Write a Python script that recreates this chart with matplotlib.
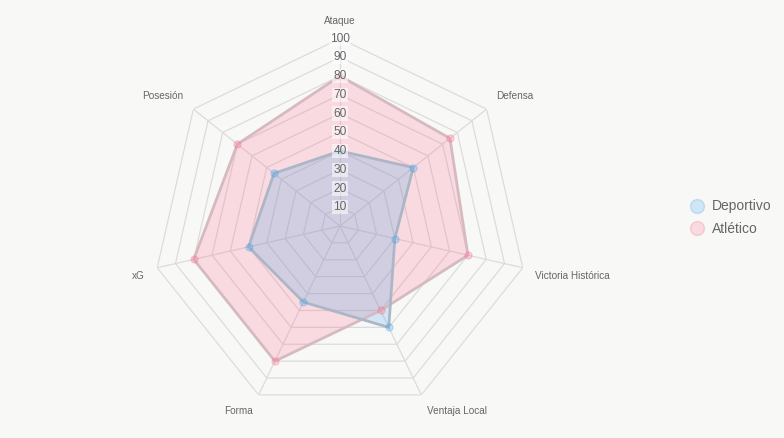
import numpy as np
import matplotlib
matplotlib.use("Agg")
from matplotlib import pyplot as plt
from matplotlib.lines import Line2D

plt.rcParams['font.family'] = ['Liberation Sans', 'DejaVu Sans']

## data
categories = ['Ataque', 'Defensa', 'Victoria Histórica', 'Ventaja Local', 'Forma', 'xG', 'Posesión']
deportivo = [40, 50, 30, 60, 45, 50, 45]
atletico = [80, 75, 70, 50, 80, 80, 70]
ticks = [10, 20, 30, 40, 50, 60, 70, 80, 90, 100]

bg = '#f8f8f7'
grid_c = '#dcdcdc'
text_c = '#666666'

fig = plt.figure(figsize=(7.84, 4.38), dpi=100, facecolor=bg)
# center at (340,226) px, 100 -> 187.5 px
ax = fig.add_axes([0.1945, 0.0559, 0.4783, 0.8562], projection='polar')
ax.set_facecolor('none')
ax.set_theta_zero_location('N')
ax.set_theta_direction(-1)
ax.set_ylim(0, 100)
ax.grid(False)
ax.spines['polar'].set_visible(False)
ax.set_xticks([])
ax.set_yticks([])

n = len(categories)
ang = np.linspace(0, 2 * np.pi, n, endpoint=False)
ang_c = np.append(ang, ang[0])

# heptagon grid
for t in ticks:
    ax.plot(ang_c, [t] * (n + 1), color=grid_c, lw=0.9, zorder=1)
for a in ang:
    ax.plot([a, a], [0, 100], color=grid_c, lw=0.9, zorder=1)

# series (Atlético below, Deportivo on top)
series = [
    ('Atlético', atletico, (1.0, 0.388, 0.518), '#d6bac2'),
    ('Deportivo', deportivo, (0.212, 0.635, 0.922), '#adb6c6'),
]
for name, vals, col, edge in series:
    v = np.append(vals, vals[0])
    ax.fill(ang_c, v, color=col, alpha=0.2, lw=0, zorder=2)
    ax.plot(ang_c, v, color=edge, lw=2, zorder=3, solid_joinstyle='miter')
    ax.plot(ang, vals, 'o', ms=5, mfc=(*col, 0.25), mec=(*col, 0.3), mew=1, zorder=4)

# radial tick labels
for t in ticks:
    ax.text(0, t, str(t), ha='center', va='center', fontsize=8.6, color=text_c, zorder=5,
            bbox=dict(boxstyle='square,pad=0.1', fc=(1, 1, 1, 0.55), ec='none'))

# point labels
for a, lab in zip(ang, categories):
    s, c = np.sin(a), np.cos(a)
    ha = 'center' if abs(s) < 0.05 else ('left' if s > 0 else 'right')
    va = 'bottom' if c > 0 else 'top'
    ax.text(a, 106.7, lab, ha=ha, va=va, fontsize=7.2, color=text_c, clip_on=False)

# legend
handles = [
    Line2D([], [], ls='none', marker='o', ms=10, mfc=(0.212, 0.635, 0.922, 0.2),
           mec=(0.212, 0.635, 0.922, 0.25), mew=1),
    Line2D([], [], ls='none', marker='o', ms=10, mfc=(1.0, 0.388, 0.518, 0.2),
           mec=(1.0, 0.388, 0.518, 0.25), mew=1),
]
leg = fig.legend(handles, ['Deportivo', 'Atlético'], loc='center left',
                 bbox_to_anchor=(0.863, 0.503), frameon=False, fontsize=10,
                 handletextpad=0.45, labelspacing=0.62, handlelength=1.2)
for txt in leg.get_texts():
    txt.set_color(text_c)

fig.savefig('out.png', dpi=100, facecolor=bg)
